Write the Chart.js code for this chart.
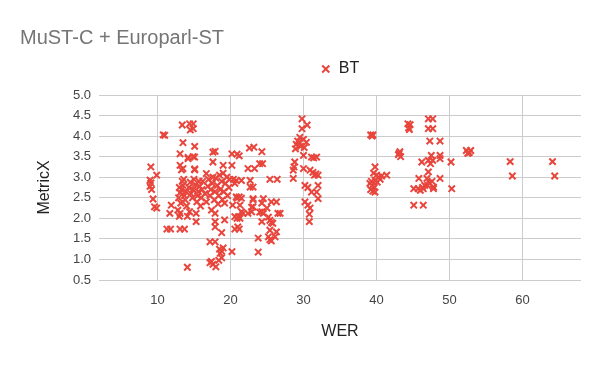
<!DOCTYPE html>
<html>
<head>
<meta charset="utf-8">
<script src="https://cdn.jsdelivr.net/npm/chart.js@4.4.1/dist/chart.umd.min.js"></script>
<style>
  body { margin: 0; background: #fff; }
  #wrap { width: 600px; height: 371px; }
</style>
</head>
<body>
<div id="wrap"><canvas id="chart" width="600" height="371"></canvas></div>
<script>
// Dados do gráfico
const chartTitle = 'MuST-C + Europarl-ST';
const seriesName = 'BT';
const xTitle = 'WER';
const yTitle = 'MetricX';

// WER de cada segmento
const werValues = [
  9.1, 9.9, 9.0, 9.1, 9.0, 9.2, 9.4, 9.6,
  9.9, 10.8, 11.0, 11.3, 11.8, 11.7, 11.9,
  13.4, 14.4, 14.9, 14.5, 14.9, 13.5, 13.1, 14.2,
  14.9, 13.1, 13.5, 13.3, 15.1, 15.1, 15.1, 14.2,
  12.8, 13.0, 13.1, 13.2, 12.9, 13.1, 13.3, 13.0,
  13.5, 13.4, 13.7, 13.8, 13.9, 13.6, 14.0, 14.1, 14.4,
  14.3, 14.5, 14.6, 14.8, 14.9, 15.0, 15.2, 15.3,
  15.3, 15.4, 15.5, 15.6, 15.8, 15.9, 15.7, 16.0,
  16.1, 16.2, 15.1,
  16.5, 16.7, 16.7, 16.9, 17.0, 17.2, 17.3, 17.4,
  17.5, 17.6, 17.8, 17.9, 17.9, 18.0, 18.2, 18.3,
  17.6, 17.6, 17.9, 17.9, 17.9,
  18.4, 18.5, 18.6, 18.8, 18.9, 19.0, 19.0, 19.1,
  19.2, 19.3, 19.5, 19.2, 19.6, 19.8, 19.9, 20.2, 20.2,
  20.3, 20.4, 20.6, 20.8, 21.2, 21.3, 20.6, 21.1,
  21.7, 22.4, 23.1, 23.1, 20.6, 21.2, 20.8, 21.5,
  22.7, 22.7, 23.1, 20.9, 21.5, 21.5, 22.9, 20.9,
  21.3, 21.0, 20.9, 21.2, 22.6, 23.2, 22.4, 23.3,
  24.0, 24.4, 24.3, 23.8, 23.8, 24.3, 24.3, 24.3,
  13.1, 13.7, 14.1, 17.2, 17.9, 18.5, 18.8, 18.6,
  19.0, 20.2, 17.2, 17.6, 18.0, 17.4, 18.4, 18.8, 18.8,
  23.1, 24.5, 25.6, 26.3, 22.9, 24.0, 24.5, 25.0,
  25.2, 25.4, 25.6, 25.8, 26.5, 26.8, 26.3, 25.4,
  25.2, 25.4, 25.6, 26.1, 25.4, 26.4,
  29.8, 30.5, 29.8, 29.5, 30.0, 29.2, 30.4, 29.0,
  29.6, 30.1, 28.9, 29.4, 30.0, 31.1, 31.8, 28.8,
  28.7, 28.6, 30.0, 30.9, 31.3, 31.7, 32.0, 31.5,
  28.6, 30.2, 30.6, 32.0, 31.1, 31.8, 32.0, 30.2,
  30.6, 30.9, 30.8, 30.8, 31.4,
  39.2, 39.5, 39.4, 39.8, 39.6, 40.0, 40.3, 40.5,
  39.8, 41.4, 39.1, 39.4, 39.7, 39.2, 39.5, 39.8,
  39.3, 40.1, 40.7,
  44.3, 44.6, 44.4, 44.5, 43.2, 43.0, 43.3, 43.1,
  47.1, 47.7, 47.1, 47.7, 47.3, 48.7, 47.5, 48.7,
  46.2, 47.1, 47.7, 47.4, 48.7, 50.2, 47.1, 45.8,
  46.9, 47.3, 47.6, 47.8, 47.0, 48.7, 45.1, 45.7,
  46.4, 46.0, 47.8, 50.3, 45.1, 46.4, 46.6, 46.3,
  52.3, 52.7, 52.9, 52.5, 58.3, 58.6, 64.1, 64.4
];

// MetricX de cada segmento (mesma ordem)
const metricxValues = [
  3.25, 3.05, 2.93, 2.86, 2.78, 2.70, 2.47, 2.28,
  2.25, 4.03, 4.02, 1.74, 1.74, 2.12, 2.32,
  4.27, 4.30, 4.30, 4.15, 4.18, 3.84, 3.57, 3.48,
  3.50, 3.29, 3.21, 3.18, 3.75, 3.49, 3.18, 3.45,
  2.20, 2.05, 2.12, 2.37, 2.50, 2.62, 2.70, 2.75,
  2.80, 2.90, 2.55, 2.45, 2.65, 2.95, 2.30, 2.05, 2.16,
  2.75, 2.88, 2.60, 2.50, 2.70, 2.95, 2.82, 2.12,
  1.92, 2.40, 2.55, 2.65, 2.78, 2.30, 2.90, 2.50,
  2.70, 2.90, 3.20,
  2.60, 3.09, 2.40, 2.78, 2.95, 2.55, 2.70, 2.20,
  2.85, 3.00, 2.45, 2.12, 2.65, 2.98, 2.80, 2.35,
  3.37, 3.61, 3.63, 1.79, 1.92,
  2.55, 3.05, 2.70, 2.90, 2.45, 3.10, 3.29, 2.65,
  2.37, 2.85, 3.00, 1.96, 2.55, 2.75, 2.95, 3.29, 3.57,
  2.32, 2.95, 2.85, 2.52, 2.52, 2.32, 2.04, 2.04,
  2.12, 2.12, 2.28, 2.45, 1.74, 1.74, 2.92, 2.92,
  2.92, 2.76, 2.76, 2.49, 2.49, 2.16, 2.16, 2.00,
  2.00, 1.79, 3.56, 3.52, 3.71, 3.73, 3.21, 3.21,
  3.33, 3.33, 3.62, 1.52, 1.18, 2.37, 2.16, 1.92,
  1.74, 1.74, 0.81, 1.43, 1.43, 1.25, 1.20, 1.15,
  1.28, 1.19, 0.92, 0.88, 0.82, 0.95, 0.98, 1.04, 1.65,
  2.48, 2.48, 2.40, 2.40, 2.27, 2.15, 2.12, 2.25,
  2.03, 1.95, 1.90, 1.88, 2.12, 2.12, 1.67, 1.71,
  1.55, 1.48, 1.45, 1.55, 2.95, 2.95,
  4.42, 4.27, 4.18, 3.97, 3.92, 3.88, 3.85, 3.80,
  3.75, 3.72, 3.69, 3.85, 3.53, 3.49, 3.49, 3.37,
  3.25, 3.17, 3.21, 3.17, 3.12, 3.08, 3.05, 3.05,
  2.97, 2.80, 2.75, 2.80, 2.64, 2.64, 2.48, 2.40,
  2.32, 2.25, 2.10, 1.92, 3.47,
  4.03, 4.03, 4.00, 3.25, 3.10, 3.05, 3.00, 2.95,
  2.93, 3.05, 2.85, 2.80, 2.75, 2.70, 2.66, 2.64,
  2.90, 2.88, 3.03,
  4.30, 4.28, 4.20, 4.16, 3.62, 3.55, 3.50, 3.58,
  4.42, 4.42, 4.18, 4.18, 3.88, 3.88, 3.53, 3.53,
  3.37, 3.41, 3.41, 3.33, 3.45, 3.37, 3.13, 2.97,
  2.97, 2.85, 2.90, 2.76, 2.80, 2.97, 2.72, 2.72,
  2.72, 2.68, 2.72, 2.72, 2.32, 2.32, 2.80, 2.75,
  3.65, 3.60, 3.65, 3.58, 3.38, 3.03, 3.38, 3.03
];

// Limites dos eixos
const xRange = [2, 68];
const yRange = [0.5, 5];

// Monta os pontos {x, y} a partir das listas
const points = werValues.map((w, i) => ({ x: w, y: metricxValues[i] }));

const fontFamily = '"Liberation Sans", Arial, sans-serif';
const red = '#e8453c';

const ctx = document.getElementById('chart').getContext('2d');
new Chart(ctx, {
  type: 'scatter',
  data: {
    datasets: [{
      label: seriesName,
      data: points,
      pointStyle: 'crossRot',
      pointRadius: 4.5,
      pointBorderWidth: 2,
      borderColor: red,
      backgroundColor: red
    }]
  },
  options: {
    responsive: false,
    animation: false,
    layout: { padding: { left: 20, right: 19, top: 0, bottom: 0 } },
    plugins: {
      title: {
        display: true,
        text: chartTitle,
        align: 'start',
        color: '#757575',
        font: { family: fontFamily, size: 20, weight: 'normal', lineHeight: 0.2 },
        padding: { top: 36, bottom: 0 }
      },
      legend: {
        fullSize: false,
        labels: {
          usePointStyle: true,
          pointStyleWidth: 10,
          boxHeight: 7,
          padding: 21,
          color: '#222',
          font: { family: fontFamily, size: 16 }
        }
      },
      tooltip: { enabled: false }
    },
    scales: {
      x: {
        type: 'linear',
        min: xRange[0],
        max: xRange[1],
        afterFit: (scale) => { scale.height = 91; },
        border: { display: false },
        grid: { color: '#cccccc', drawTicks: false },
        ticks: {
          stepSize: 10,
          includeBounds: false,
          padding: 13,
          color: '#444',
          font: { family: fontFamily, size: 13 }
        },
        title: {
          display: true,
          text: xTitle,
          color: '#222',
          font: { family: fontFamily, size: 16 },
          padding: { top: 0, bottom: 30 }
        }
      },
      // eixo vazio no topo, só para dar espaço entre a legenda e o gráfico
      xTop: {
        type: 'linear',
        axis: 'x',
        position: 'top',
        min: xRange[0],
        max: xRange[1],
        afterFit: (scale) => { scale.height = 8; },
        border: { display: false },
        grid: { display: false },
        ticks: { display: false }
      },
      y: {
        min: yRange[0],
        max: yRange[1],
        afterFit: (scale) => { scale.width = 79; },
        border: { display: false },
        grid: { color: '#cccccc', drawTicks: false },
        ticks: {
          stepSize: 0.5,
          padding: 8,
          color: '#444',
          font: { family: fontFamily, size: 13 },
          callback: (v) => v.toFixed(1)
        },
        title: {
          display: true,
          text: yTitle,
          color: '#222',
          font: { family: fontFamily, size: 16 },
          padding: { top: 15, bottom: 0 }
        }
      }
    }
  }
});
</script>
</body>
</html>
